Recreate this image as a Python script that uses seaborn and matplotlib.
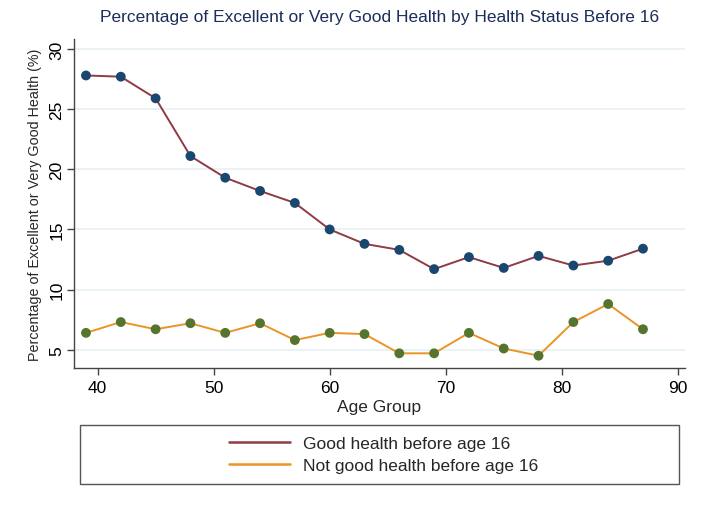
import numpy as np
import pandas as pd
import matplotlib
matplotlib.use("Agg")
import matplotlib.pyplot as plt
import matplotlib.patches as mpatches
from matplotlib.lines import Line2D
import seaborn as sns

# ── Data ───────────────────────────────────────────────
ages = [39, 42, 45, 48, 51, 54, 57, 60, 63, 66, 69, 72, 75, 78, 81, 84, 87]
good_before16 = [27.8, 27.7, 25.9, 21.1, 19.3, 18.2, 17.2, 15.0, 13.8,
                 13.3, 11.7, 12.7, 11.8, 12.8, 12.0, 12.4, 13.4]
not_good_before16 = [6.4, 7.3, 6.7, 7.2, 6.4, 7.2, 5.8, 6.4, 6.3,
                     4.7, 4.7, 6.4, 5.1, 4.5, 7.3, 8.8, 6.7]
labels = ["Good health before age 16", "Not good health before age 16"]

x_ticks = [40, 50, 60, 70, 80, 90]
y_ticks = [5, 10, 15, 20, 25, 30]

df = pd.DataFrame({
    "age": ages * 2,
    "pct": good_before16 + not_good_before16,
    "group": [labels[0]] * len(ages) + [labels[1]] * len(ages),
})

LINE_COLORS = {labels[0]: "#8f3a44", labels[1]: "#eb9426"}
MARK_COLORS = {labels[0]: "#1a476f", labels[1]: "#55752f"}

# ── Style ──────────────────────────────────────────────
sns.set_theme(style="white")
plt.rcParams["font.family"] = ["Liberation Sans", "DejaVu Sans"]

fig = plt.figure(figsize=(7.04, 5.10), dpi=100)
ax = fig.add_axes([0.105, 0.2765, 0.868, 0.645])

sns.lineplot(data=df, x="age", y="pct", hue="group", palette=LINE_COLORS,
             linewidth=1.4, legend=False, ax=ax, zorder=2)
sns.scatterplot(data=df, x="age", y="pct", hue="group", palette=MARK_COLORS,
                s=50, edgecolor="none", legend=False, ax=ax, zorder=3)

ax.set_xlim(37.96, 90.62)
ax.set_ylim(3.48, 30.83)
ax.set_xticks(x_ticks)
ax.set_yticks(y_ticks)
ax.yaxis.grid(True, color="#e8f0f4", linewidth=1.2)
ax.set_axisbelow(True)

for side in ["top", "right"]:
    ax.spines[side].set_visible(False)
for side in ["left", "bottom"]:
    ax.spines[side].set_color("#444444")
    ax.spines[side].set_linewidth(1.0)

ax.tick_params(axis="both", which="major", direction="out", length=5,
               width=1, color="#444444", labelsize=12.5, labelcolor="black",
               bottom=True, left=True)
ax.tick_params(axis="y", pad=2)
plt.setp(ax.get_yticklabels(), rotation=90, va="center")

ax.set_xlabel("Age Group", fontsize=12.5, labelpad=3)
ax.set_ylabel("Percentage of Excellent or Very Good Health (%)", fontsize=10.3,
              labelpad=5)
ax.set_title("Percentage of Excellent or Very Good Health by Health Status Before 16",
             fontsize=12.5, color="#1c2d5a", pad=13)

# ── Legend (box drawn separately, entries centred) ────
box = mpatches.Rectangle((0.1136, 0.049), 0.851, 0.1157, transform=fig.transFigure,
                         fill=False, edgecolor="#555555", linewidth=1.0)
fig.patches.append(box)
handles = [Line2D([0], [0], color=LINE_COLORS[l], linewidth=1.8) for l in labels]
fig.legend(handles, labels, loc="center", bbox_to_anchor=(0.545, 0.107),
           frameon=False, fontsize=12.5, handlelength=3.5, handletextpad=0.75,
           labelspacing=0.42)

fig.savefig("out.png", dpi=100)
